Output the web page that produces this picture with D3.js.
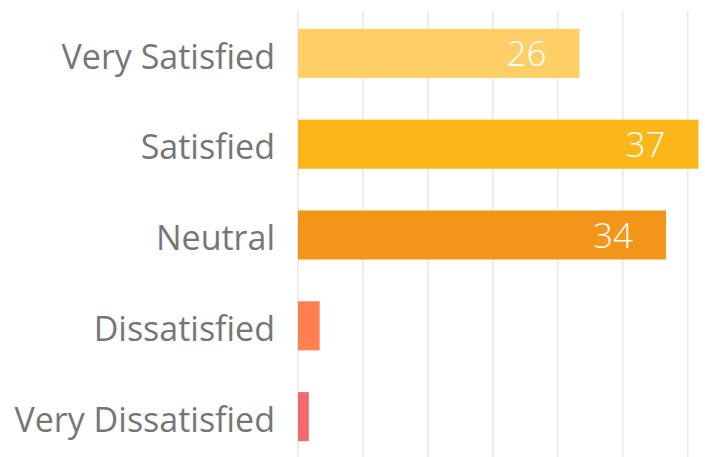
<!DOCTYPE html>
<html>
<head>
<meta charset="utf-8">
<script src="https://cdn.jsdelivr.net/npm/d3@7"></script>
<style>
  body { margin: 0; background: #fff; }
  text { font-family: "Open Sans", "Noto Sans", sans-serif; }
</style>
</head>
<body>
<svg id="chart" width="705" height="457"></svg>
<script>
// chart data
var categories = ['Very Satisfied', 'Satisfied', 'Neutral', 'Dissatisfied', 'Very Dissatisfied'];
var values = [26, 37, 34, 2, 1];
var colors = ['#FECF66', '#FBB61A', '#F39518', '#FF7F50', '#F36A6D'];
var gridTicks = [0, 6, 12, 18, 24, 30, 36];

var svg = d3.select('#chart');
var svgWidth = +svg.attr('width');
var svgHeight = +svg.attr('height');

// layout
var x = d3.scaleLinear().domain([0, 37]).range([298, 698.5]);
var y = d3.scaleBand().domain(categories)
    .range([8, 462])
    .paddingInner(0.46)
    .paddingOuter(0.23);

// vertical gridlines
svg.append('g')
    .selectAll('line')
    .data(gridTicks)
    .enter()
    .append('line')
    .attr('x1', function(d) { return x(d); })
    .attr('x2', function(d) { return x(d); })
    .attr('y1', 11)
    .attr('y2', svgHeight)
    .attr('stroke', '#ECECEC')
    .attr('stroke-width', 2);

var rows = categories.map(function(c, i) {
    return {cat: c, value: values[i], color: colors[i]};
});

// bars
svg.append('g')
    .selectAll('rect')
    .data(rows)
    .enter()
    .append('rect')
    .attr('x', x(0))
    .attr('y', function(d) { return y(d.cat); })
    .attr('width', function(d) { return x(d.value) - x(0); })
    .attr('height', y.bandwidth())
    .attr('fill', function(d) { return d.color; });

// value labels inside the big bars
svg.append('g')
    .selectAll('text')
    .data(rows.filter(function(d) { return d.value > 5; }))
    .enter()
    .append('text')
    .attr('x', function(d) { return x(d.value) - 33; })
    .attr('y', function(d) { return y(d.cat) + y.bandwidth() / 2; })
    .attr('dy', '0.36em')
    .attr('text-anchor', 'end')
    .attr('fill', '#fff')
    .style('font-size', '35px')
    .style('font-weight', 300)
    .text(function(d) { return d.value; });

// category labels
svg.append('g')
    .selectAll('text')
    .data(categories)
    .enter()
    .append('text')
    .attr('x', 275)
    .attr('y', function(d) { return y(d) + y.bandwidth() / 2 + 3; })
    .attr('dy', '0.36em')
    .attr('text-anchor', 'end')
    .attr('fill', '#767676')
    .style('font-size', '34px')
    .text(function(d) { return d; });
</script>
</body>
</html>
